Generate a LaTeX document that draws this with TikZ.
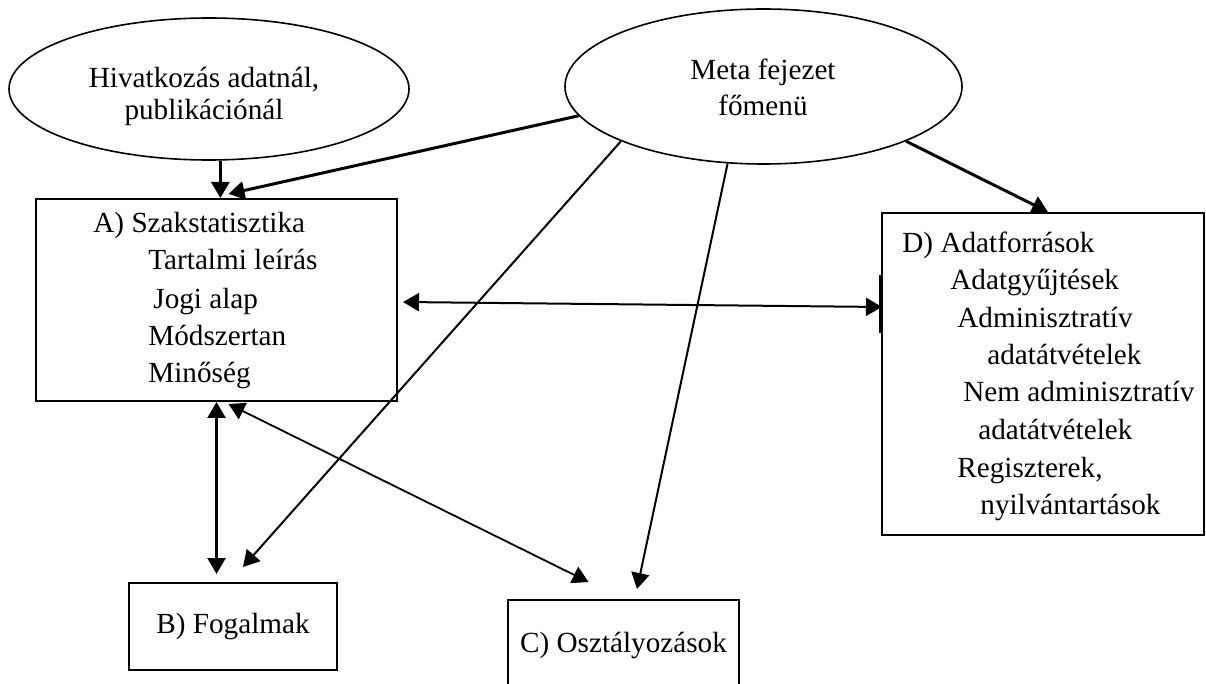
\documentclass[tikz,border=0pt]{standalone}
\usepackage{fontspec}
\setmainfont{Liberation Serif}
\usetikzlibrary{arrows.meta,shapes.geometric,calc}

\begin{document}
\begin{tikzpicture}[x=0.5pt,y=-0.5pt,
  every node/.style={font=\fontsize{14.6pt}{17pt}\selectfont},
  oval/.style={draw,ellipse,line width=0.8pt,inner sep=0pt},
  panel/.style={draw,rectangle,line width=1pt,inner sep=0pt},
  txt/.style={anchor=base west,inner sep=0pt},
  ctxt/.style={anchor=base,inner sep=0pt},
  tip/.style={-{Triangle[length=8pt,width=9pt]}},
  twotip/.style={{Triangle[length=8pt,width=9pt]}-{Triangle[length=8pt,width=9pt]}},
  heavy/.style={line width=1.5pt},
  medium/.style={line width=1pt},
]
% canvas
\clip (0,0) rectangle (1206,684);
\fill[white] (0,0) rectangle (1206,684);

% ovals
\node[oval,minimum width=200pt,minimum height=71pt] (hiv) at (209,89) {};
\node[ctxt] (hiv1) at (204,88) {Hivatkozás adatnál,};
\node[ctxt] (hiv2) at (204,120) {publikációnál};

\node[oval,minimum width=198.5pt,minimum height=77.5pt] (meta) at (763.5,86.5) {};
\node[ctxt] (meta1) at (763,80) {Meta fejezet};
\node[ctxt] (meta2) at (763,116) {főmenü};

% boxes
\node[panel,minimum width=180.5pt,minimum height=101pt] (A) at (216.5,300) {};
\node[txt] (a1) at (93,233) {A) Szakstatisztika};
\node[txt] (a2) at (148,270) {Tartalmi leírás};
\node[txt] (a3) at (153,309) {Jogi alap};
\node[txt] (a4) at (148,346) {Módszertan};
\node[txt] (a5) at (148,383) {Minőség};

\node[panel,minimum width=104pt,minimum height=43.5pt] (B) at (233,626.5) {B) Fogalmak};
\node[panel,minimum width=115.5pt,minimum height=45pt] (C) at (623.5,645) {C) Osztályozások};

\node[panel,minimum width=161pt,minimum height=161pt] (D) at (1043,374) {};
\node[txt] (d1) at (902,253) {D) Adatforrások};
\node[txt] (d2) at (950,290) {Adatgyűjtések};
\node[txt] (d3) at (957,328) {Adminisztratív};
\node[txt] (d4) at (987,365) {adatátvételek};
\node[txt] (d5) at (963,401) {Nem adminisztratív};
\node[txt] (d6) at (978,440) {adatátvételek};
\node[txt] (d7) at (957,478) {Regiszterek,};
\node[txt] (d8) at (980,515) {nyilvántartások};

% connectors
\draw[heavy,tip] (hiv.-81) -- (hiv.-81 |- A.north);
\draw[heavy,tip] (meta.189) -- ($(A.north)+(12,-4)$);
\draw[medium,tip] (meta.201) -- ($(B.north)+(10,-15)$);
\draw[medium,tip] (meta.245) -- ($(C.north)+(13.5,-10)$);
\draw[heavy,tip] (meta.339) -- ($(D.north)+(5,0)$);

\draw[line width=1.25pt,twotip] (A.south) -- ($(A.south |- B.north)+(0,-8)$);
\draw[line width=0.9pt,twotip] ($(A.south)+(12,2)$) -- ($(C.north)+(-35,-17)$);
\draw[line width=1pt,twotip] ($(A.east)+(5,2)$) -- ($(D.west)+(1,-67)$);
\draw[line width=2pt] ($(D.west)+(0,-99)$) -- ($(D.west)+(0,-41)$);
\end{tikzpicture}
\end{document}
